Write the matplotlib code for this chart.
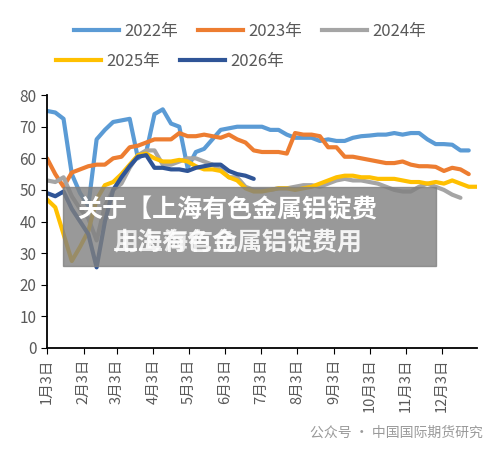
import numpy as np
from matplotlib import pyplot as plt
from matplotlib.lines import Line2D

plt.rcParams['font.family'] = ['Noto Sans CJK SC', 'DejaVu Sans']

# weekly values, week 0 = 1月3日
y2022 = [75, 74.5, 72.5, 55, 49, 45, 66, 69, 71.5, 72, 72.5, 60, 62, 74, 75.5, 71, 70, 57, 62, 63,
         66, 69, 69.5, 70, 70, 70, 70, 69, 69, 67.5, 66.5, 66.5, 66.5, 65.5, 66, 65.5, 65.5, 66.5,
         67, 67.2, 67.5, 67.5, 68, 67.5, 68, 68, 66, 64.5, 64.5, 64.3, 62.5, 62.5]
y2023 = [60, 55, 51, 55.5, 56.5, 57.5, 58, 58, 60, 60.5, 63.5, 64, 65, 66, 66, 66, 68, 67, 67, 67.5,
         67, 66.5, 67.5, 66, 65, 62.5, 62, 62, 62, 61.5, 68, 67.5, 67.5, 67, 63.5, 63.5, 60.5, 60.5,
         60, 59.5, 59, 58.5, 58.5, 59, 58, 57.5, 57.5, 57.3, 56, 57, 56.5, 55]
y2024 = [53, 52.5, 54, 48, 44, 41, 34, 45, 50, 52, 57, 61, 62.5, 62.5, 58, 58, 59, 60, 60, 59,
         58, 56.5, 54, 54, 51, 50, 50, 50, 50.5, 50.5, 51, 51.5, 51.5, 51, 52, 53, 53.5, 53, 53,
         52.5, 52, 51, 50, 49.5, 49.5, 51, 52, 51, 50, 48.5, 47.5]
y2025 = [47, 44.5, 36, 27.5, 32, 37, 47, 51.5, 52.5, 55, 58, 61, 61.5, 60, 59, 59, 59.5, 59, 57.5,
         56.5, 56.5, 56, 54, 53, 50.5, 49.5, 49.5, 50, 50.5, 50.5, 50, 50.5, 51, 52, 53, 54, 54.5,
         54.5, 54, 54, 53.5, 53.5, 53.5, 53, 52.5, 52.5, 52, 52.5, 52, 53, 52, 51, 51]
y2026 = [49, 48, 49.5, 44, 40, 36, 25.5, 40, 50, 54, 57.5, 60.5, 61, 57, 57, 56.5, 56.5, 56, 57,
         57.5, 58, 58, 56, 55, 54.5, 53.5]

series = [('2022年', y2022, '#5B9BD5'), ('2023年', y2023, '#ED7D31'), ('2024年', y2024, '#A5A5A5'),
          ('2025年', y2025, '#FFC000'), ('2026年', y2026, '#2F5597')]

month_days = [0, 31, 59, 90, 120, 151, 181, 212, 243, 273, 304, 334]
month_labels = [f'{m}月3日' for m in range(1, 13)]

fig = plt.figure(figsize=(5, 4.53), dpi=100)
ax = fig.add_axes([0.094, 0.232, 0.86, 0.558])
for name, vals, c in series:
    ax.plot(np.arange(len(vals)), vals, color=c, linewidth=3, label=name, solid_capstyle='round')

ax.set_xlim(0, 52)
ax.set_ylim(0, 80)
ax.set_yticks(range(0, 81, 10))
ax.set_xticks(np.array(month_days) / 7)
ax.set_xticklabels(month_labels, rotation=90, fontsize=10.5, color='#595959')
ax.tick_params(axis='y', labelsize=11, colors='#595959')
ax.tick_params(axis='both', direction='out', length=4, color='black')
for s in ['top', 'right']:
    ax.spines[s].set_visible(False)
for s in ['left', 'bottom']:
    ax.spines[s].set_linewidth(1.3)

handles = [Line2D([0], [0], color=c, linewidth=3) for _, _, c in series]
leg_kw = dict(frameon=False, fontsize=12, handlelength=2.7, handletextpad=0.3, columnspacing=1.2)
fig.legend(handles[:3], [n for n, _, _ in series[:3]], loc='center', bbox_to_anchor=(0.5, 0.93),
           ncol=3, **leg_kw)
fig.legend(handles[3:], [n for n, _, _ in series[3:]], loc='center', bbox_to_anchor=(0.34, 0.865),
           ncol=2, **leg_kw)
for t in fig.legends[0].get_texts() + fig.legends[1].get_texts():
    t.set_color('#595959')

# overlay banner
fig.patches.append(plt.Rectangle((63 / 500, 1 - 266 / 453), 373 / 500, 79 / 453,
                                 transform=fig.transFigure, color='#808080', alpha=0.8, zorder=5))
fig.text(77 / 500, 1 - 210 / 453, '关于【上海有色金属铝锭费', color='white', fontsize=18,
         fontweight='bold', va='center', zorder=6)
fig.text(113 / 500, 1 - 243 / 453, '用上海有色', color='white', fontsize=18,
         fontweight='bold', va='center', zorder=6, alpha=0.8)
fig.text(113 / 500, 1 - 243 / 453, '上海有色金属铝锭费用', color='white', fontsize=18,
         fontweight='bold', va='center', zorder=6, alpha=0.9)

fig.text(0.966, 1 - 433 / 453, '公众号 · 中国国际期货研究', color='#9a9a9a', fontsize=10,
         ha='right', va='center')

fig.savefig('out.png')
